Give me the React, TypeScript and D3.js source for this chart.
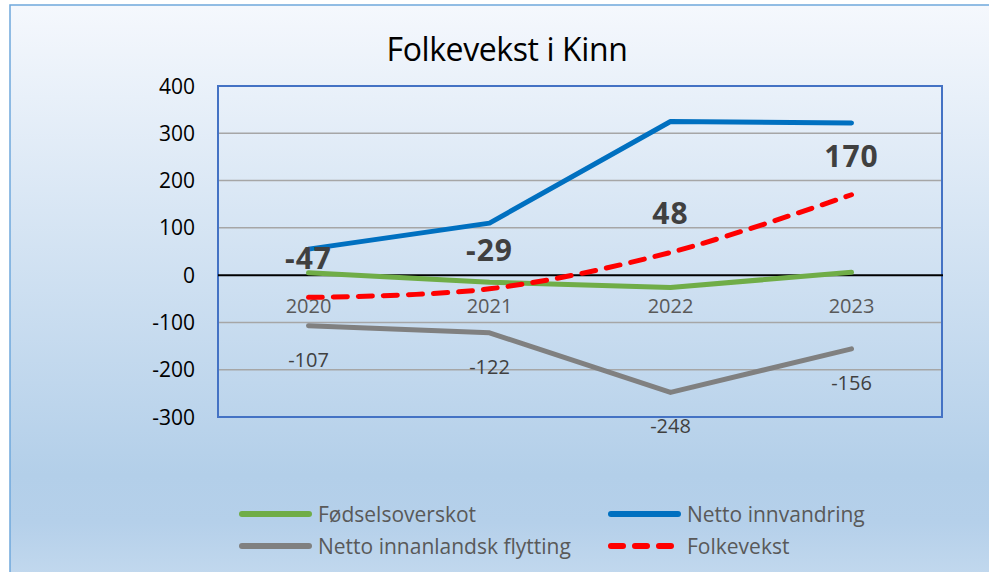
import React from 'react';
import * as d3 from 'd3';

// chart data
const years = ['2020', '2021', '2022', '2023'];
const fodselsoverskot = [5, -15, -26, 6];
const nettoInnvandring = [55, 110, 325, 322];
const nettoInnanlandsk = [-107, -122, -248, -156];
const folkevekst = [-47, -29, 48, 170];
const yTicks = [400, 300, 200, 100, 0, -100, -200, -300];

const W = 989;
const H = 572;
const FONT = "'Open Sans', 'Noto Sans', sans-serif";

const App = () => {
    const plot = { left: 218, right: 942, top: 86, bottom: 417 };

    const x = d3.scalePoint<string>()
        .domain(years)
        .range([plot.left, plot.right])
        .padding(0.5);

    const y = d3.scaleLinear()
        .domain([-300, 400])
        .range([plot.bottom, plot.top]);

    const straight = d3.line<number>()
        .x((d, i) => x(years[i]) as number)
        .y(d => y(d));

    const smooth = d3.line<number>()
        .x((d, i) => x(years[i]) as number)
        .y(d => y(d))
        .curve(d3.curveCatmullRom.alpha(0));

    const series = [
        { name: 'Fødselsoverskot', values: fodselsoverskot, color: '#70ad47', dash: null, gen: straight },
        { name: 'Netto innvandring', values: nettoInnvandring, color: '#0070c0', dash: null, gen: straight },
        { name: 'Netto innanlandsk flytting', values: nettoInnanlandsk, color: '#808080', dash: null, gen: straight },
        { name: 'Folkevekst', values: folkevekst, color: '#ff0000', dash: '14 11', gen: smooth },
    ];

    // legend: two columns, two rows
    const legendPos = [
        { x: 239, y: 514 },
        { x: 608, y: 514 },
        { x: 239, y: 546 },
        { x: 608, y: 546 },
    ];

    return (
        <svg width={W} height={H} style={{ position: 'absolute', left: 0, top: 0, display: 'block' }}>
            <defs>
                <linearGradient id="bg" x1="0" y1="0" x2="0" y2="1">
                    <stop offset="0" stopColor="#f5f8fd" />
                    <stop offset="0.78" stopColor="#b3cfe9" />
                    <stop offset="0.86" stopColor="#b5d0ea" />
                    <stop offset="1" stopColor="#c9ddf0" />
                </linearGradient>
            </defs>
            <rect x={0} y={0} width={W} height={H} fill="#ffffff" />
            <rect x={10} y={5} width={W + 20} height={H + 30} fill="url(#bg)" stroke="#6fa8dc" strokeWidth={1.5} />

            <text x={507} y={61} textAnchor="middle" fontFamily={FONT} fontSize={32} fill="#000" letterSpacing={-0.4}>
                Folkevekst i Kinn
            </text>

            {/* gridlines */}
            {yTicks.filter(t => t !== 0 && t !== 400 && t !== -300).map(t => (
                <line key={t} x1={plot.left} x2={plot.right} y1={y(t)} y2={y(t)} stroke="#a6a6a6" strokeWidth={1.5} />
            ))}
            <rect x={plot.left} y={plot.top} width={plot.right - plot.left} height={plot.bottom - plot.top}
                fill="none" stroke="#4472c4" strokeWidth={2} />

            {/* y axis labels */}
            {yTicks.map(t => (
                <text key={t} x={195} y={y(t)} dy="0.36em" textAnchor="end" fontFamily={FONT} fontSize={21} fill="#000">
                    {t}
                </text>
            ))}

            {/* x axis at zero */}
            <line x1={plot.left} x2={plot.right + 1} y1={y(0)} y2={y(0)} stroke="#000" strokeWidth={2} />
            {years.map(yr => (
                <text key={yr} x={x(yr)} y={y(0) + 38} textAnchor="middle" fontFamily={FONT} fontSize={20} fill="#595959">
                    {yr}
                </text>
            ))}

            {/* lines */}
            {series.map(s => (
                <path key={s.name} d={s.gen(s.values) || ''} fill="none" stroke={s.color} strokeWidth={5}
                    strokeLinecap="round" strokeLinejoin="round" strokeDasharray={s.dash || undefined} />
            ))}

            {/* labels: innanlandsk flytting below, folkevekst above */}
            {nettoInnanlandsk.map((v, i) => (
                <text key={'g' + i} x={x(years[i])} y={y(v) + 41} textAnchor="middle" fontFamily={FONT} fontSize={20} fill="#404040">
                    {v}
                </text>
            ))}
            {folkevekst.map((v, i) => (
                <text key={'r' + i} x={x(years[i])} y={y(v) - 28} textAnchor="middle" fontFamily={FONT} fontSize={30}
                    fontWeight="bold" fill="#404040" letterSpacing={1}>
                    {v}
                </text>
            ))}

            {/* legend */}
            {series.map((s, k) => {
                const p = legendPos[k];
                return (
                    <g key={s.name} transform={`translate(${p.x},${p.y})`}>
                        <line x1={3} x2={s.dash ? 66 : 70} y1={0} y2={0} stroke={s.color} strokeWidth={6}
                            strokeLinecap="round" strokeDasharray={s.dash ? '12 12' : undefined} />
                        <text x={79} y={0} dy="0.36em" fontFamily={FONT} fontSize={21} fill="#595959">
                            {s.name}
                        </text>
                    </g>
                );
            })}
        </svg>
    );
};

export default App;
